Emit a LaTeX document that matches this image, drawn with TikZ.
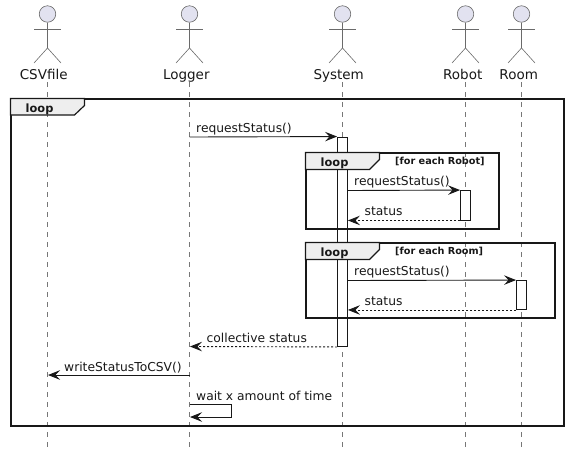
\documentclass[tikz,border=0pt]{standalone}
\usepackage{fontspec}
\setmainfont{DejaVu Sans}
\usetikzlibrary{arrows.meta}
\definecolor{ink}{HTML}{181818}
\definecolor{actorfill}{HTML}{E2E2F0}
\definecolor{actorline}{HTML}{6A6A6A}
\definecolor{lifeline}{HTML}{777777}
\definecolor{tabfill}{HTML}{EEEEEE}
\tikzset{
  x=1pt,y=-1pt,
  tipstyle/.tip={Stealth[length=12pt,width=9.5pt,inset=4.5pt]},
  msg/.style={draw=ink,line width=0.9pt,-tipstyle},
  reply/.style={msg,dash pattern=on 2pt off 2pt},
  msgtext/.style={anchor=base west,inner sep=0pt,font=\fontsize{12.3pt}{13pt}\selectfont,text=ink},
  actorname/.style={anchor=base,inner sep=0pt,font=\fontsize{13.5pt}{14pt}\selectfont,text=ink},
  life/.style={draw=lifeline,line width=0.6pt,dash pattern=on 5pt off 5pt},
  limb/.style={draw=actorline,line width=0.6pt},
  head/.style={circle,draw=actorline,fill=actorfill,line width=0.6pt,minimum size=16.5pt,inner sep=0pt},
  bar/.style={rectangle,draw=ink,fill=white,line width=0.9pt,minimum width=10pt,inner sep=0pt},
  framebox/.style={draw=ink,line width=2pt},
  tabshape/.style={draw=ink,fill=tabfill,line width=1.2pt,line join=miter},
  looptext/.style={anchor=base west,inner sep=0pt,font=\bfseries\fontsize{11.4pt}{12pt}\selectfont,text=ink},
  guardtext/.style={anchor=base west,inner sep=0pt,font=\bfseries\fontsize{9.7pt}{10pt}\selectfont,text=ink},
}
\newcommand{\stick}[4]{%
  \node[head] (#2h) at (#1,14) {};
  \draw[limb] (#2h.south) -- (#1,48) coordinate (#2hip);
  \draw[limb] (#1-13.5,29) -- (#1+13.5,29);
  \draw[limb] (#1-13.5,63) -- (#2hip) -- (#1+13.5,63);
  \node[actorname] (#2n) at (#4,79) {#3};
  \coordinate (#2top) at (#1,82);
  \coordinate (#2bot) at (#1,448);
  \draw[life] (#2top) -- (#2bot);
}
\newcommand{\looptab}[3]{%
  \draw[tabshape] (#1,#2) -- (#1+74,#2) -- (#1+74,#2+7) -- (#1+64,#3) -- (#1,#3) -- cycle;
}
\begin{document}
\begin{tikzpicture}
\useasboundingbox (0,0) rectangle (569,448);
\stick{47.5}{csv}{CSVfile}{43.7}
\stick{189.5}{log}{Logger}{186.3}
\stick{342.5}{sys}{System}{338.7}
\stick{465.5}{rob}{Robot}{462.7}
\stick{521.5}{roo}{Room}{518.7}
% activations
\node[bar,minimum height=209.5pt] (sysbar) at (342.5,241.75) {};
\node[bar,minimum height=29.5pt] (robbar) at (465.5,205.25) {};
\node[bar,minimum height=29pt] (roobar) at (521.5,295) {};
% helper points on lifelines
\coordinate (a1) at (189.5,137);
\coordinate (w1) at (189.5,375);
\coordinate (w2) at (48,375);
\coordinate (s1) at (189.5,404);
\coordinate (s2) at (231.5,404);
\coordinate (s3) at (231.5,417);
\coordinate (s4) at (190,417);
\coordinate (c2) at (190,346.5);
% outer loop
\draw[framebox] (10.5,98.5) rectangle (564,425.5);
\looptab{10.5}{98.5}{115}
\node[looptext] (l0) at (25.5,112.5) {loop};
% inner loop robot
\draw[framebox] (305.5,152.5) rectangle (498.5,228.5);
\looptab{305.5}{152.5}{169.5}
\node[looptext] (l1) at (320.5,166) {loop};
\node[guardtext] (g1) at (395,164.7) {[for each Robot]};
% inner loop room
\draw[framebox] (305.5,242.5) rectangle (554.5,317.5);
\looptab{305.5}{242.5}{259.5}
\node[looptext] (l2) at (320.5,256) {loop};
\node[guardtext] (g2) at (395,254.7) {[for each Room]};
% messages
\draw[msg] (a1) -- (sysbar.north west);
\node[msgtext] at (196,132) {requestStatus()};
\draw[msg] (sysbar.east |- 0,190.5) -- (robbar.north west);
\node[msgtext] at (354,185.5) {requestStatus()};
\draw[reply] (robbar.south west) -- (sysbar.east |- robbar.south);
\node[msgtext] at (364.5,215) {status};
\draw[msg] (sysbar.east |- 0,280.5) -- (roobar.north west);
\node[msgtext] at (354,275.5) {requestStatus()};
\draw[reply] (roobar.south west) -- (sysbar.east |- roobar.south);
\node[msgtext] at (364.5,305) {status};
\draw[reply] (sysbar.south west) -- (c2);
\node[msgtext] at (206.5,342) {collective status};
\draw[msg] (w1) -- (w2);
\node[msgtext] at (64,371) {writeStatusToCSV()};
\draw[msg] (s1) -- (s2) -- (s3) -- (s4);
\node[msgtext] at (196,400) {wait x amount of time};
\end{tikzpicture}
\end{document}
